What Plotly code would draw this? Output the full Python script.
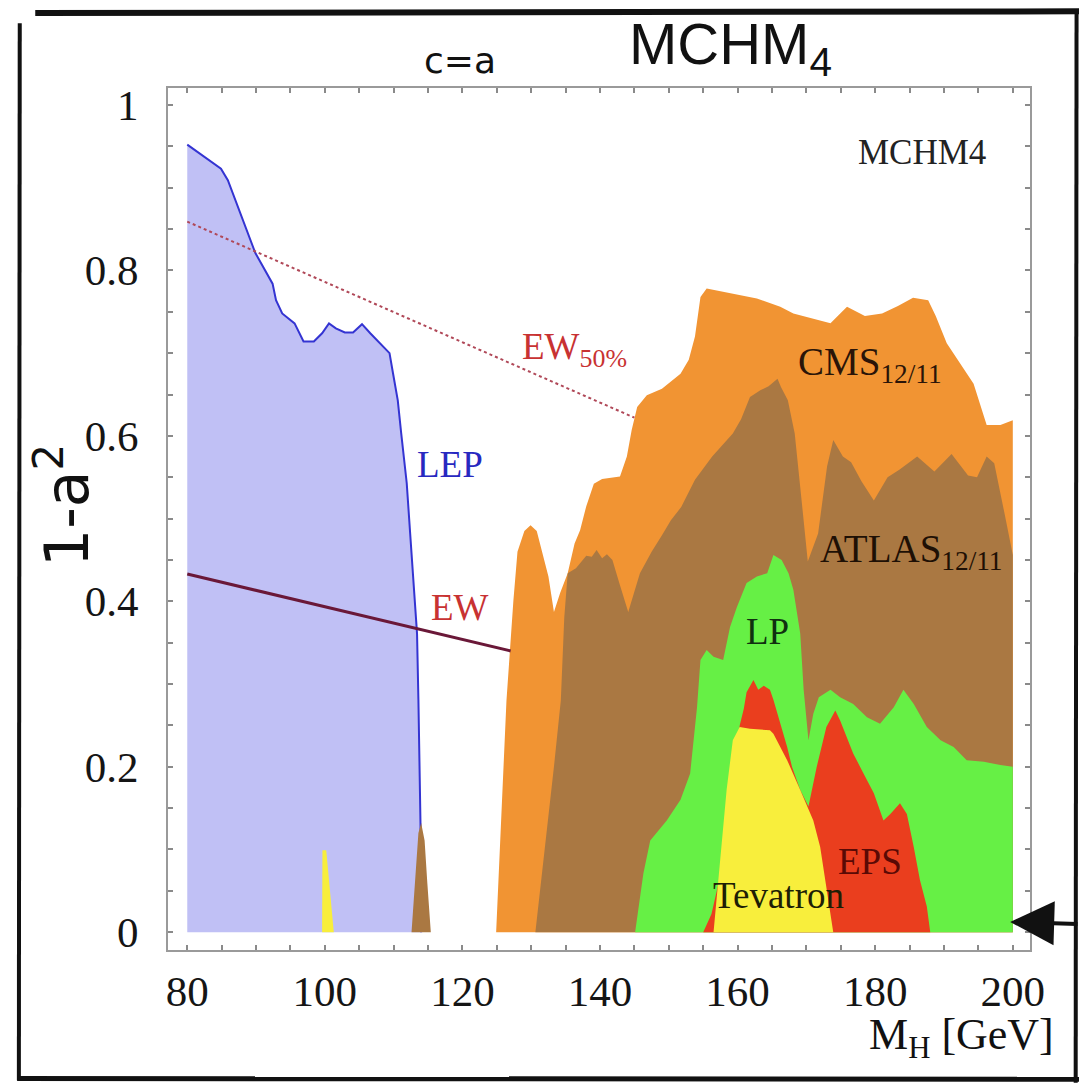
import plotly.graph_objects as go

# ---------------- data ----------------
# LEP exclusion (blue)
lep_x = [80, 84.9, 85.9, 89.9, 92.4, 92.9, 93.8, 95.6, 96.9, 98.4, 99.6, 100.6, 101.6, 102.9, 104.1,
         105.4, 106.6, 108.3, 109.4, 109.9, 110.6, 111.1, 111.9, 112.4, 112.9, 113.4, 113.6, 113.9, 114.0]
lep_y = [0.952, 0.923, 0.909, 0.821, 0.784, 0.764, 0.748, 0.736, 0.714, 0.714, 0.724, 0.736, 0.730, 0.725, 0.725,
         0.735, 0.724, 0.710, 0.700, 0.676, 0.643, 0.603, 0.543, 0.482, 0.422, 0.361, 0.281, 0.132, 0.0]

# small spikes near 100 and 114 GeV
tev_spike_x = [99.6, 99.65, 100.2, 100.6, 101.0, 101.3]
tev_spike_y = [0.0, 0.099, 0.099, 0.06, 0.03, 0.0]
atl_spike_x = [112.6, 113.1, 113.6, 114.0, 114.5, 114.9, 115.4]
atl_spike_y = [0.0, 0.059, 0.12, 0.132, 0.111, 0.059, 0.0]

# CMS 12/11 (orange)
cms_x = [124.9, 126.4, 127.4, 128.0, 129.0, 129.9, 130.8, 131.6, 132.5, 133.3, 134.2, 135.3, 136.3, 137.1,
         138.0, 139.1, 140.3, 142.9, 143.9, 144.6, 145.4, 146.8, 149.0, 151.7, 152.9, 153.8, 154.6, 155.5,
         158.9, 162.8, 166.2, 168.1, 173.5, 175.9, 178.5, 181.0, 183.3, 185.5, 187.7, 188.8, 190.4, 193.3,
         194.3, 196.2, 198.2, 200.0, 200.0]
cms_y = [0.0, 0.28, 0.40, 0.46, 0.485, 0.492, 0.485, 0.46, 0.43, 0.387, 0.41, 0.434, 0.47, 0.486,
         0.515, 0.542, 0.548, 0.551, 0.575, 0.607, 0.635, 0.649, 0.657, 0.675, 0.692, 0.72, 0.768, 0.778,
         0.772, 0.766, 0.756, 0.748, 0.736, 0.756, 0.745, 0.748, 0.757, 0.767, 0.764, 0.745, 0.712, 0.675,
         0.663, 0.613, 0.613, 0.619, 0.0]

# ATLAS 12/11 (brown)
atlas_x = [130.6, 132.0, 133.3, 134.3, 134.8, 135.3, 136.5, 138.0, 138.8, 139.5, 140.3, 141.0, 141.8, 142.8,
           144.1, 145.8, 147.5, 149.0, 150.3, 151.8, 153.8, 156.3, 159.3, 160.5, 161.8, 163.3, 164.5, 165.8,
           166.3, 167.3, 168.3, 169.3, 170.2, 171.7, 173.0, 173.9, 175.3, 176.5, 178.0, 179.8, 181.8, 183.5,
           186.1, 188.6, 191.1, 193.5, 194.8, 196.2, 197.3, 198.8, 200.0, 200.0]
atlas_y = [0.0, 0.1, 0.2, 0.28, 0.38, 0.434, 0.44, 0.455, 0.454, 0.462, 0.452, 0.457, 0.45, 0.422,
           0.387, 0.434, 0.46, 0.48, 0.498, 0.514, 0.547, 0.575, 0.603, 0.62, 0.647, 0.655, 0.66, 0.669,
           0.659, 0.643, 0.603, 0.522, 0.448, 0.482, 0.563, 0.595, 0.575, 0.568, 0.545, 0.522, 0.55, 0.559,
           0.575, 0.557, 0.578, 0.552, 0.55, 0.575, 0.567, 0.506, 0.456, 0.0]

# LP (green)
lp_x = [145.1, 146.3, 147.3, 149.7, 151.7, 153.1, 154.1, 154.6, 155.5, 156.5, 157.9, 158.9, 159.9, 161.3,
        162.8, 164.3, 165.2, 166.4, 167.4, 168.1, 169.1, 169.6, 170.3, 171.0, 171.8, 173.5, 174.9, 176.8,
        178.8, 180.7, 182.7, 184.1, 185.6, 187.5, 189.5, 191.4, 193.3, 195.8, 198.2, 200.0, 200.0]
lp_y = [0.0, 0.071, 0.111, 0.135, 0.16, 0.192, 0.272, 0.329, 0.341, 0.333, 0.329, 0.369, 0.393, 0.422,
        0.43, 0.434, 0.456, 0.45, 0.434, 0.414, 0.361, 0.293, 0.232, 0.264, 0.284, 0.293, 0.284, 0.276,
        0.26, 0.252, 0.272, 0.293, 0.276, 0.248, 0.232, 0.224, 0.208, 0.206, 0.202, 0.2, 0.0]

# EPS (red)
eps_x = [155.0, 156.2, 157.8, 159.5, 160.3, 160.9, 161.3, 162.3, 163.0, 163.8, 164.7, 165.2, 166.2, 167.2,
         167.9, 169.1, 170.3, 171.0, 171.5, 172.9, 174.2, 174.9, 176.8, 178.3, 179.8, 181.2, 182.2, 183.6,
         184.6, 185.6, 186.5, 187.5, 188.0]
eps_y = [0.0, 0.022, 0.08, 0.2, 0.25, 0.27, 0.29, 0.305, 0.293, 0.298, 0.293, 0.281, 0.252, 0.224,
         0.2, 0.172, 0.152, 0.18, 0.2, 0.248, 0.268, 0.256, 0.216, 0.192, 0.168, 0.135, 0.143, 0.156,
         0.143, 0.103, 0.063, 0.031, 0.0]

# Tevatron (yellow)
tev_x = [156.5, 157.5, 158.4, 159.3, 160.3, 161.8, 164.7, 165.2, 167.2, 169.1, 171.0, 172.0, 172.9, 173.9]
tev_y = [0.0, 0.091, 0.172, 0.232, 0.248, 0.246, 0.244, 0.24, 0.208, 0.172, 0.135, 0.103, 0.055, 0.0]

# EW fits (lines)
ew_x = [80, 127]
ew_y = [0.433, 0.34]
ew50_x = [80, 145]
ew50_y = [0.859, 0.622]

x_ticks = [80, 100, 120, 140, 160, 180, 200]
y_ticks = [0, 0.2, 0.4, 0.6, 0.8, 1]

# ---------------- figure ----------------
SERIF = "Liberation Serif"
fig = go.Figure()


def area(x, y, color):
    fig.add_trace(go.Scatter(x=x, y=y, mode="lines", fill="tozeroy", fillcolor=color,
                             line=dict(width=0, color=color), hoverinfo="skip", showlegend=False))


fig.add_trace(go.Scatter(x=lep_x, y=lep_y, mode="lines", fill="tozeroy", fillcolor="#C0C0F5",
                         line=dict(width=2, color="#3434D2"), hoverinfo="skip", showlegend=False))
area(tev_spike_x, tev_spike_y, "#F8EE3C")
area(atl_spike_x, atl_spike_y, "#AA7842")
area(cms_x, cms_y, "#F19433")
area(atlas_x, atlas_y, "#AA7842")
area(lp_x, lp_y, "#66F045")
area(eps_x, eps_y, "#EA3E1E")
area(tev_x, tev_y, "#F8EE3C")

fig.add_trace(go.Scatter(x=ew_x, y=ew_y, mode="lines", line=dict(width=3, color="#6A1838"),
                         hoverinfo="skip", showlegend=False))
fig.add_trace(go.Scatter(x=ew50_x, y=ew50_y, mode="lines", line=dict(width=2, color="#B04858", dash="dot"),
                         hoverinfo="skip", showlegend=False))

axis_common = dict(showgrid=False, zeroline=False, showline=True, linecolor="#9a9a9a", linewidth=2,
                   mirror="ticks", ticks="inside", ticklen=5, tickwidth=1.5, tickcolor="#8a8a8a",
                   tickfont=dict(family=SERIF, size=43, color="#151515"))

fig.update_xaxes(range=[77.2, 202.5], tickvals=x_ticks, ticklabelstandoff=2,
                 minor=dict(dtick=5, tick0=80, ticks="inside", ticklen=5, tickcolor="#8a8a8a", tickwidth=1.5),
                 **axis_common)
fig.update_yaxes(range=[-0.0215, 1.0205], tickvals=y_ticks, ticklabelstandoff=19,
                 minor=dict(dtick=0.05, tick0=0, ticks="inside", ticklen=5, tickcolor="#8a8a8a", tickwidth=1.5),
                 **axis_common)

ann = []


def dlabel(text, x, y, color, size):
    ann.append(dict(text=text, x=x, y=y, xref="x", yref="y", showarrow=False,
                    xanchor="center", yanchor="middle",
                    font=dict(family=SERIF, size=size, color=color)))


dlabel("LEP", 118.2, 0.565, "#2828C0", 37)
dlabel("EW", 119.7, 0.392, "#C83232", 37)
dlabel("EW<sub>50%</sub>", 136.3, 0.704, "#C83232", 37)
dlabel("CMS<sub>12/11</sub>", 179.3, 0.686, "#2a1408", 39)
dlabel("ATLAS<sub>12/11</sub>", 185.3, 0.46, "#1e1005", 39)
dlabel("LP", 164.3, 0.363, "#103010", 37)
dlabel("EPS", 179.3, 0.085, "#5a0a05", 37)
dlabel("Tevatron", 166.0, 0.044, "#1e1e05", 37)
dlabel("MCHM4", 186.8, 0.943, "#222222", 35)


def plabel(text, x, y, family, size, **kw):
    d = dict(text=text, x=x, y=y, xref="paper", yref="paper", showarrow=False,
             xanchor="center", yanchor="middle", font=dict(family=family, size=size, color="#111"))
    d.update(kw)
    ann.append(d)


plabel("c=a", 0.339, 1.032, "DejaVu Sans", 36)
plabel("MCHM<sub>4</sub>", 0.652, 1.046, "Liberation Sans", 58)
plabel("1-a<sup>2</sup>", -0.122, 0.516, "DejaVu Sans", 60, textangle=-90)
plabel("M<sub>H</sub> [GeV]", 1.030, -0.101, SERIF, 44, xanchor="right")

# hand-drawn arrow at bottom right
ann.append(dict(text="", x=0.977, y=0.0325, xref="paper", yref="paper", showarrow=True,
                ax=75, ay=2, arrowhead=2, arrowsize=2.2, arrowwidth=4, arrowcolor="#111"))

# sketchy outer frame (paper coordinates)
shapes = [
    dict(type="line", xref="paper", yref="paper", x0=-0.154, x1=1.06, y0=1.087, y1=1.089,
         line=dict(color="#111", width=6)),
    dict(type="line", xref="paper", yref="paper", x0=-0.173, x1=-0.172, y0=-0.151, y1=1.075,
         line=dict(color="#111", width=4)),
    dict(type="line", xref="paper", yref="paper", x0=-0.175, x1=1.06, y0=-0.149, y1=-0.150,
         line=dict(color="#111", width=5)),
    dict(type="line", xref="paper", yref="paper", x0=1.053, x1=1.054, y0=-0.154, y1=1.086,
         line=dict(color="#111", width=4)),
]

fig.update_layout(width=1079, height=1083, autosize=False,
                  margin=dict(l=168, r=49, t=88, b=133),
                  paper_bgcolor="white", plot_bgcolor="white",
                  annotations=ann, shapes=shapes, showlegend=False)

fig.write_html("out.html")
